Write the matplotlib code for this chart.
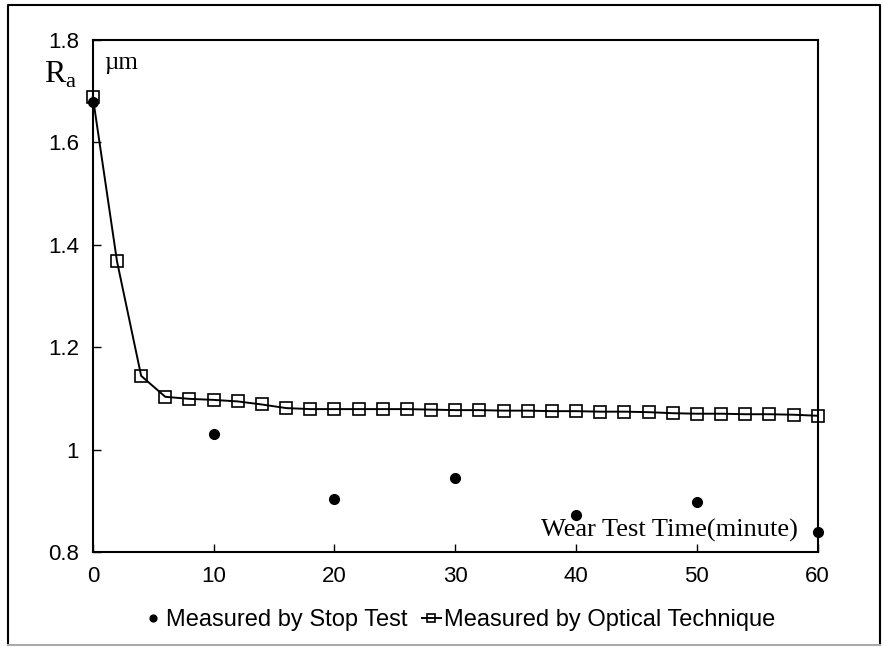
import numpy as np
import matplotlib
matplotlib.use("Agg")
import matplotlib.pyplot as plt
from matplotlib.lines import Line2D

# optical technique, every 2 minutes
optical_time = np.arange(0, 62, 2)
optical_ra = [1.689, 1.368, 1.144, 1.103, 1.099, 1.097, 1.094, 1.088, 1.081, 1.079,
              1.079, 1.079, 1.079, 1.079, 1.078, 1.077, 1.077, 1.076, 1.076, 1.075,
              1.075, 1.074, 1.074, 1.073, 1.071, 1.070, 1.070, 1.069, 1.069, 1.068,
              1.066]

# stop test
stop_time = [0, 10, 20, 30, 40, 50, 60]
stop_ra = [1.68, 1.031, 0.904, 0.945, 0.872, 0.898, 0.839]

yticks = [0.8, 1.0, 1.2, 1.4, 1.6, 1.8]
ytick_labels = ["0.8", "1", "1.2", "1.4", "1.6", "1.8"]
xticks = [0, 10, 20, 30, 40, 50, 60]

plt.rcParams['font.family'] = ['Liberation Sans', 'DejaVu Sans']

fig = plt.figure(figsize=(8.84, 6.47), dpi=100)
ax = fig.add_axes([0.105, 0.147, 0.82, 0.791])

ax.plot(stop_time, stop_ra, 'o', color='black', ms=7, clip_on=False, zorder=3,
        label='Measured by Stop Test')
ax.plot(optical_time, optical_ra, '-s', color='black', lw=1.4, ms=9,
        mfc='none', mew=1.2, clip_on=False, zorder=4,
        label='Measured by Optical Technique')

ax.set_xlim(0, 60)
ax.set_ylim(0.8, 1.8)
ax.set_xticks(xticks)
ax.set_yticks(yticks)
ax.set_yticklabels(ytick_labels)
ax.tick_params(direction='in', length=6, width=1, labelsize=16)
ax.tick_params(axis='y', pad=10)
ax.tick_params(axis='x', pad=10)
for s in ax.spines.values():
    s.set_linewidth(1.5)

ax.text(-0.067, 0.932, r"R$_\mathregular{a}$", transform=ax.transAxes,
        fontsize=23, family='Liberation Serif', ha='left', va='center')
ax.text(0.016, 0.956, "\u00b5m", transform=ax.transAxes,
        fontsize=18, family='Liberation Serif', ha='left', va='center')
ax.text(0.973, 0.042, "Wear Test Time(minute)", transform=ax.transAxes,
        fontsize=19, family='Liberation Serif', ha='right', va='center')

fig.legend(loc='center', bbox_to_anchor=(0.52, 0.041), ncol=2, frameon=False,
           fontsize=17, handlelength=0.8, handletextpad=0.15, columnspacing=0.6,
           markerscale=0.7)

# outer frame
fx0, fx1, fy0, fy1 = 0.009, 0.995, 0.003, 0.992
fig.add_artist(Line2D([fx0, fx0, fx1, fx1], [fy0, fy1, fy1, fy0],
                      transform=fig.transFigure, color='black', lw=1.5))
fig.add_artist(Line2D([fx0, fx1], [fy0, fy0], transform=fig.transFigure,
                      color='#aaaaaa', lw=1.5))

fig.savefig("out.png", dpi=100)
